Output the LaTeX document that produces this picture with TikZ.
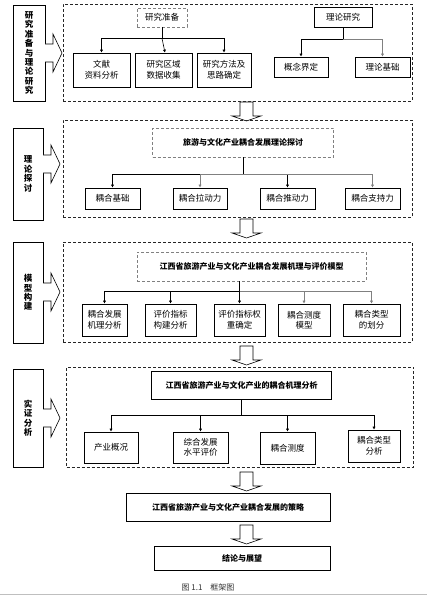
\documentclass[tikz,border=0pt]{standalone}
\usepackage{fontspec}
\newfontfamily\cjk{Noto Sans CJK SC}
\usetikzlibrary{arrows.meta}

\tikzset{
  every node/.style={font=\cjk\fontsize{8.5}{10.5}\selectfont},
  wh/.style 2 args={minimum width=#1, minimum height=#2},
  box/.style={draw, line width=0.7pt, align=center, inner sep=1pt},
  tbox/.style={draw=gray, densely dashed, line width=0.6pt, align=center, font=\cjk\bfseries\fontsize{8}{10}\selectfont},
  sbox/.style={box, font=\cjk\bfseries\fontsize{8}{10}\selectfont},
  sec/.style={draw=black!85, densely dashed, line width=0.5pt},
  lab/.style={draw, line width=0.6pt, align=center, inner sep=0pt, font=\cjk\bfseries\fontsize{8.5}{9.4}\selectfont},
  link/.style={line width=0.6pt, -{Latex[length=3pt,width=3.2pt]}},
  glink/.style={link, draw=gray},
}

% hollow arrows between the blocks
\newcommand{\harr}[2]{\draw[line width=0.6pt, fill=white] (#1,#2) ++(0,-9) -- ++(8,0) -- ++(0,-10) -- ++(9,19) -- ++(-9,19) -- ++(0,-10) -- ++(-8,0);}
\newcommand{\varr}[2]{\draw[line width=0.6pt, fill=white] (#1,#2) ++(-6.5,0) -- ++(0,14) -- ++(-8,0) -- ++(14.5,5) -- ++(14.5,-5) -- ++(-8,0) -- ++(0,-14) -- cycle;}

\begin{document}
\begin{tikzpicture}[x=1pt, y=-1pt]
\useasboundingbox (0,0) rectangle (427,596);

% research preparation and theory
\node[sec, wh={349}{97}] (sec1) at (237.5,52.5) {};
\node[lab, wh={32}{96}] (lab1) at (29,53) {研\\究\\准\\备\\与\\理\\论\\研\\究};
\harr{45}{53}
\node[box, draw=gray, densely dashed, wh={50}{19}] (prep) at (162,17.5) {研究准备};
\node[box, wh={57}{34}] (lit1) at (101.5,70) {文献\\资料分析};
\node[box, wh={57}{34}] (lit2) at (163.5,70) {研究区域\\数据收集};
\node[box, wh={54}{34}] (lit3) at (224,70) {研究方法及\\思路确定};
\node[box, wh={58}{20}] (theo) at (343,17) {理论研究};
\node[box, wh={54}{20}] (con1) at (301,67) {概念界定};
\node[box, wh={55}{20}] (con2) at (382.5,67) {理论基础};
\coordinate (j1) at ([yshift=-11pt]prep.south);
\draw[link] (prep.south) -- (j1) -| (lit1.north);
\draw[link] (j1) -- ([xshift=1.5pt]lit2.north);
\draw[link] (j1) -| (lit3.north);
\coordinate (j2) at ([yshift=-12pt]theo.south);
\draw[link] (theo.south) -- (j2) -| (con1.north);
\draw[glink] (j2) -| (con2.north);

\varr{246.5}{102}

% theory discussion
\node[sec, wh={349}{97}] (sec2) at (237.5,168.5) {};
\node[lab, wh={30}{92}] (lab2) at (28,174) {理\\论\\探\\讨};
\harr{43}{164}
\node[tbox, wh={181}{29}] (t2) at (243,142.5) {旅游与文化产业耦合发展理论探讨};
\node[box, wh={55}{21}] (b21) at (112.5,198.5) {耦合基础};
\node[box, wh={54}{21}] (b22) at (200,198.5) {耦合拉动力};
\node[box, wh={55}{21}] (b23) at (287.5,198.5) {耦合推动力};
\node[box, wh={55}{21}] (b24) at (372.5,198.5) {耦合支持力};
\coordinate (j3) at ([yshift=-17pt]t2.south);
\draw[line width=0.6pt] (t2.south) -- (j3);
\draw[link] (j3) -| (b21.north);
\draw[glink] (j3) -| (b22.north);
\draw[link] (j3) -| (b23.north);
\draw[glink] (j3) -| (b24.north);

\varr{246.5}{219}

% model building
\node[sec, wh={349}{100}] (sec3) at (237.5,292) {};
\node[lab, wh={30}{101}] (lab3) at (28,292.5) {模\\型\\构\\建};
\harr{43}{292}
\node[tbox, wh={229}{29}] (t3) at (251.5,266.5) {江西省旅游产业与文化产业耦合发展机理与评价模型};
\node[box, wh={45}{32}] (b31) at (104.5,320) {耦合发展\\机理分析};
\node[box, wh={51}{32}] (b32) at (170.5,320) {评价指标\\构建分析};
\node[box, wh={51}{32}] (b33) at (239.5,320) {评价指标权\\重确定};
\node[box, wh={52}{32}] (b34) at (304,320) {耦合测度\\模型};
\node[box, wh={57}{32}] (b35) at (371.5,320) {耦合类型\\的划分};
\coordinate (j4) at ([yshift=-10pt]b33.north |- t3.south);
\draw[link] (b33.north |- t3.south) -- (b33.north);
\draw[link] (j4) -| (b31.north);
\draw[link] (j4) -| (b32.north);
\draw[glink] (j4) -| (b34.north);
\draw[glink] (j4) -| (b35.north);

\varr{246.5}{346}

% empirical analysis
\node[sec, wh={347}{100}] (sec4) at (240,417) {};
\node[lab, wh={30}{98}] (lab4) at (28,418) {实\\证\\分\\析};
\harr{43}{418}
\node[sbox, wh={180}{28}] (t4) at (241.5,385) {江西省旅游产业与文化产业的耦合机理分析};
\node[box, wh={54}{31}] (b41) at (111,447.5) {产业概况};
\node[box, wh={55}{31}] (b42) at (200.5,447.5) {综合发展\\水平评价};
\node[box, wh={55}{32}] (b43) at (287.5,448) {耦合测度};
\node[box, wh={52}{32}] (b44) at (374,446) {耦合类型\\分析};
\coordinate (j5) at ([yshift=-16pt]t4.south);
\draw[line width=0.6pt] (t4.south) -- (j5);
\draw[link] (j5) -| (b41.north);
\draw[link] (j5) -| (b42.north);
\draw[link] (j5) -| (b43.north);
\draw[link] (j5) -| (b44.north);

\varr{246.5}{472}
\node[sbox, wh={204}{28}] (plan) at (228,507) {江西省旅游产业与文化产业耦合发展的策略};
\varr{246.5}{525}
\node[sbox, wh={176}{24}] (end) at (242,558) {结论与展望};

\node[font=\cjk\fontsize{8}{10}\selectfont, text=black!80] (cap) at (208,587) {图 1.1\quad 框架图};
\draw[gray!50, line width=1pt] (0,594.5) -- (427,594.5);
\end{tikzpicture}
\end{document}
